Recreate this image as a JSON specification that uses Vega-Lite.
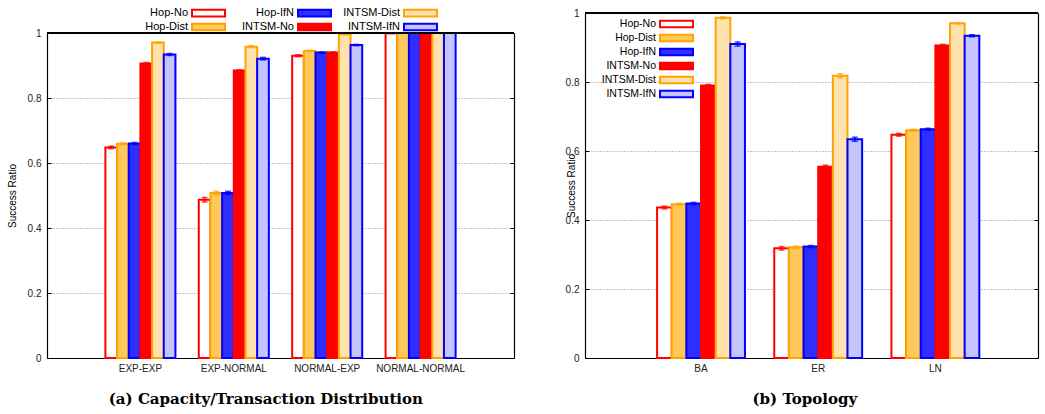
{
  "$schema": "https://vega.github.io/schema/vega-lite/v6.json",
  "padding": {"left": 7, "top": 6, "right": 5, "bottom": 5},
  "background": "white",
  "bounds": "flush",
  "spacing": 71,
  "config": {
    "view": {"stroke": null},
    "font": "Liberation Sans",
    "axis": {
      "labelFont": "Liberation Sans", "labelFontSize": 10, "labelColor": "#222",
      "titleFont": "Liberation Sans", "titleFontSize": 10, "titleFontWeight": "normal", "titleColor": "#000",
      "domainColor": "#000", "domainWidth": 1.2, "tickColor": "#000"
    },
    "legend": {"title": null, "symbolType": "M-3,-0.6H3V0.6H-3Z", "symbolSize": 121, "symbolStrokeWidth": 2, "labelAlign": "right", "labelOffset": -27, "symbolOffset": 75, "labelFont": "Liberation Sans", "labelColor": "#000", "columnPadding": 4, "rowPadding": 0, "padding": 0},
    "title": {"font": "DejaVu Serif", "fontSize": 15, "fontWeight": "bold", "color": "#000"}
  },
  "datasets": {
    "dist": [
      {"group": "EXP-EXP", "method": "Hop-No", "ratio": 0.648, "lo": 0.644, "hi": 0.652},
      {"group": "EXP-EXP", "method": "Hop-Dist", "ratio": 0.659, "lo": 0.656, "hi": 0.662},
      {"group": "EXP-EXP", "method": "Hop-IfN", "ratio": 0.660, "lo": 0.657, "hi": 0.663},
      {"group": "EXP-EXP", "method": "INTSM-No", "ratio": 0.906, "lo": 0.903, "hi": 0.909},
      {"group": "EXP-EXP", "method": "INTSM-Dist", "ratio": 0.971, "lo": 0.969, "hi": 0.973},
      {"group": "EXP-EXP", "method": "INTSM-IfN", "ratio": 0.934, "lo": 0.931, "hi": 0.937},
      {"group": "EXP-NORMAL", "method": "Hop-No", "ratio": 0.487, "lo": 0.480, "hi": 0.494},
      {"group": "EXP-NORMAL", "method": "Hop-Dist", "ratio": 0.508, "lo": 0.503, "hi": 0.513},
      {"group": "EXP-NORMAL", "method": "Hop-IfN", "ratio": 0.508, "lo": 0.503, "hi": 0.513},
      {"group": "EXP-NORMAL", "method": "INTSM-No", "ratio": 0.885, "lo": 0.883, "hi": 0.887},
      {"group": "EXP-NORMAL", "method": "INTSM-Dist", "ratio": 0.958, "lo": 0.955, "hi": 0.961},
      {"group": "EXP-NORMAL", "method": "INTSM-IfN", "ratio": 0.921, "lo": 0.917, "hi": 0.925},
      {"group": "NORMAL-EXP", "method": "Hop-No", "ratio": 0.930, "lo": 0.927, "hi": 0.933},
      {"group": "NORMAL-EXP", "method": "Hop-Dist", "ratio": 0.945, "lo": 0.943, "hi": 0.947},
      {"group": "NORMAL-EXP", "method": "Hop-IfN", "ratio": 0.940, "lo": 0.938, "hi": 0.942},
      {"group": "NORMAL-EXP", "method": "INTSM-No", "ratio": 0.940, "lo": 0.938, "hi": 0.942},
      {"group": "NORMAL-EXP", "method": "INTSM-Dist", "ratio": 0.996, "lo": 0.995, "hi": 0.997},
      {"group": "NORMAL-EXP", "method": "INTSM-IfN", "ratio": 0.963, "lo": 0.961, "hi": 0.965},
      {"group": "NORMAL-NORMAL", "method": "Hop-No", "ratio": 0.999, "lo": 0.998, "hi": 1.0},
      {"group": "NORMAL-NORMAL", "method": "Hop-Dist", "ratio": 1.0, "lo": 1.0, "hi": 1.0},
      {"group": "NORMAL-NORMAL", "method": "Hop-IfN", "ratio": 1.0, "lo": 1.0, "hi": 1.0},
      {"group": "NORMAL-NORMAL", "method": "INTSM-No", "ratio": 1.0, "lo": 1.0, "hi": 1.0},
      {"group": "NORMAL-NORMAL", "method": "INTSM-Dist", "ratio": 1.0, "lo": 1.0, "hi": 1.0},
      {"group": "NORMAL-NORMAL", "method": "INTSM-IfN", "ratio": 1.0, "lo": 1.0, "hi": 1.0}
    ],
    "topo": [
      {"group": "BA", "method": "Hop-No", "ratio": 0.436, "lo": 0.432, "hi": 0.440},
      {"group": "BA", "method": "Hop-Dist", "ratio": 0.446, "lo": 0.443, "hi": 0.449},
      {"group": "BA", "method": "Hop-IfN", "ratio": 0.448, "lo": 0.445, "hi": 0.451},
      {"group": "BA", "method": "INTSM-No", "ratio": 0.790, "lo": 0.787, "hi": 0.793},
      {"group": "BA", "method": "INTSM-Dist", "ratio": 0.986, "lo": 0.983, "hi": 0.989},
      {"group": "BA", "method": "INTSM-IfN", "ratio": 0.910, "lo": 0.904, "hi": 0.916},
      {"group": "ER", "method": "Hop-No", "ratio": 0.318, "lo": 0.313, "hi": 0.323},
      {"group": "ER", "method": "Hop-Dist", "ratio": 0.321, "lo": 0.318, "hi": 0.324},
      {"group": "ER", "method": "Hop-IfN", "ratio": 0.323, "lo": 0.320, "hi": 0.326},
      {"group": "ER", "method": "INTSM-No", "ratio": 0.554, "lo": 0.549, "hi": 0.559},
      {"group": "ER", "method": "INTSM-Dist", "ratio": 0.818, "lo": 0.812, "hi": 0.824},
      {"group": "ER", "method": "INTSM-IfN", "ratio": 0.634, "lo": 0.628, "hi": 0.640},
      {"group": "LN", "method": "Hop-No", "ratio": 0.647, "lo": 0.643, "hi": 0.651},
      {"group": "LN", "method": "Hop-Dist", "ratio": 0.660, "lo": 0.657, "hi": 0.663},
      {"group": "LN", "method": "Hop-IfN", "ratio": 0.663, "lo": 0.660, "hi": 0.666},
      {"group": "LN", "method": "INTSM-No", "ratio": 0.906, "lo": 0.903, "hi": 0.909},
      {"group": "LN", "method": "INTSM-Dist", "ratio": 0.970, "lo": 0.968, "hi": 0.972},
      {"group": "LN", "method": "INTSM-IfN", "ratio": 0.934, "lo": 0.931, "hi": 0.937}
    ]
  },
  "resolve": {"scale": {"fill": "independent", "stroke": "independent", "color": "independent", "x": "independent", "y": "independent", "xOffset": "independent"}, "legend": {"fill": "independent", "stroke": "independent"}},
  "hconcat": [
    {
      "width": 467,
      "height": 345,
      "data": {"name": "dist"},
      "title": {"text": "(a) Capacity/Transaction Distribution", "orient": "bottom", "frame": "bounds", "anchor": "middle", "offset": 19, "dx": 5},
      "resolve": {"axis": {"y": "independent"}},
      "layer": [
        {
          "mark": {"type": "bar", "strokeWidth": 2},
          "encoding": {
            "x": {"field": "group", "type": "nominal", "sort": null,
              "scale": {"domain": ["EXP-EXP", "EXP-NORMAL", "NORMAL-EXP", "NORMAL-NORMAL"], "paddingInner": 0, "paddingOuter": 0.5},
              "axis": {"title": null, "labelAngle": 0, "ticks": false, "labelPadding": 5, "domainColor": "#000"}},
            "xOffset": {"field": "method", "type": "nominal",
              "scale": {"domain": ["Hop-No", "Hop-Dist", "Hop-IfN", "INTSM-No", "INTSM-Dist", "INTSM-IfN"], "paddingInner": 0, "paddingOuter": 1}},
            "y": {"field": "ratio", "type": "quantitative",
              "scale": {"domain": [0, 1], "range": [345, 20], "nice": false, "zero": true},
              "axis": {"orient": "left", "title": "Success Ratio", "values": [0, 0.2, 0.4, 0.6, 0.8, 1], "format": "~g", "ticks": true, "tickSize": -4, "labelPadding": 10, "titlePadding": 10, "grid": true, "gridColor": "#888", "gridDash": [1, 2], "gridWidth": 1}},
            "fill": {"field": "method", "type": "nominal",
              "scale": {"domain": ["Hop-No", "Hop-Dist", "Hop-IfN", "INTSM-No", "INTSM-Dist", "INTSM-IfN"], "range": ["#ffffff", "#ffc85a", "#2e2eff", "#ff0000", "#ffe2ad", "#c4c4ff"]},
              "legend": {"orient": "none", "legendX": 80, "legendY": -6.5, "columns": 3, "labelFontSize": 11, "rowPadding": -3.5}},
            "stroke": {"field": "method", "type": "nominal",
              "scale": {"domain": ["Hop-No", "Hop-Dist", "Hop-IfN", "INTSM-No", "INTSM-Dist", "INTSM-IfN"], "range": ["#ff0000", "#ffa500", "#0000ff", "#ff0000", "#ffa500", "#0000ff"]},
              "legend": {"orient": "none", "legendX": 80, "legendY": -6.5, "columns": 3, "labelFontSize": 11, "rowPadding": -3.5}}
          }
        },
        {
          "mark": {"type": "rule", "strokeWidth": 1.5},
          "encoding": {
            "x": {"field": "group", "type": "nominal", "sort": null},
            "xOffset": {"field": "method", "type": "nominal"},
            "y": {"field": "lo", "type": "quantitative", "axis": null},
            "y2": {"field": "hi"},
            "stroke": {"field": "method", "type": "nominal", "legend": null}
          }
        },
        {
          "mark": {"type": "tick", "size": 6, "thickness": 1.5, "orient": "horizontal"},
          "encoding": {
            "x": {"field": "group", "type": "nominal", "sort": null},
            "xOffset": {"field": "method", "type": "nominal"},
            "y": {"field": "hi", "type": "quantitative", "axis": null},
            "color": {"field": "method", "type": "nominal", "legend": null, "scale": {"domain": ["Hop-No", "Hop-Dist", "Hop-IfN", "INTSM-No", "INTSM-Dist", "INTSM-IfN"], "range": ["#ff0000", "#ffa500", "#0000ff", "#ff0000", "#ffa500", "#0000ff"]}}
          }
        },
        {
          "mark": {"type": "tick", "size": 6, "thickness": 1.5, "orient": "horizontal"},
          "encoding": {
            "x": {"field": "group", "type": "nominal", "sort": null},
            "xOffset": {"field": "method", "type": "nominal"},
            "y": {"field": "lo", "type": "quantitative", "axis": null},
            "color": {"field": "method", "type": "nominal", "legend": null}
          }
        },
        {
          "mark": {"type": "rule", "color": "#000", "strokeWidth": 1.2},
          "encoding": {
            "y": {"datum": 1, "type": "quantitative", "axis": {"orient": "right", "title": null, "labels": false, "ticks": true, "tickSize": -4, "values": [0, 0.2, 0.4, 0.6, 0.8, 1], "grid": false, "domainColor": "#000"}}
          }
        }
      ]
    },
    {
      "width": 453,
      "height": 345,
      "data": {"name": "topo"},
      "title": {"text": "(b) Topology", "orient": "bottom", "frame": "bounds", "anchor": "middle", "offset": 19, "dx": 3},
      "resolve": {"axis": {"y": "independent"}},
      "layer": [
        {
          "mark": {"type": "bar", "strokeWidth": 2},
          "encoding": {
            "x": {"field": "group", "type": "nominal", "sort": null,
              "scale": {"domain": ["BA", "ER", "LN"], "paddingInner": 0, "paddingOuter": 0.433, "align": 0.566},
              "axis": {"title": null, "labelAngle": 0, "ticks": false, "labelPadding": 5, "domainColor": "#000"}},
            "xOffset": {"field": "method", "type": "nominal",
              "scale": {"domain": ["Hop-No", "Hop-Dist", "Hop-IfN", "INTSM-No", "INTSM-Dist", "INTSM-IfN"], "paddingInner": 0, "paddingOuter": 1}},
            "y": {"field": "ratio", "type": "quantitative",
              "scale": {"domain": [0, 1], "nice": false, "zero": true},
              "axis": {"orient": "left", "title": "Success Ratio", "values": [0, 0.2, 0.4, 0.6, 0.8, 1], "format": "~g", "ticks": true, "tickSize": -4, "labelPadding": 10, "titlePadding": -11, "grid": true, "gridColor": "#888", "gridDash": [1, 2], "gridWidth": 1}},
            "fill": {"field": "method", "type": "nominal",
              "scale": {"domain": ["Hop-No", "Hop-Dist", "Hop-IfN", "INTSM-No", "INTSM-Dist", "INTSM-IfN"], "range": ["#ffffff", "#ffc85a", "#2e2eff", "#ff0000", "#ffe2ad", "#c4c4ff"]},
              "legend": {"orient": "none", "legendX": 10, "legendY": 4.5, "columns": 1, "labelFontSize": 10.5, "rowPadding": -4.6}},
            "stroke": {"field": "method", "type": "nominal",
              "scale": {"domain": ["Hop-No", "Hop-Dist", "Hop-IfN", "INTSM-No", "INTSM-Dist", "INTSM-IfN"], "range": ["#ff0000", "#ffa500", "#0000ff", "#ff0000", "#ffa500", "#0000ff"]},
              "legend": {"orient": "none", "legendX": 10, "legendY": 4.5, "columns": 1, "labelFontSize": 10.5, "rowPadding": -4.6}}
          }
        },
        {
          "mark": {"type": "rule", "strokeWidth": 1.5},
          "encoding": {
            "x": {"field": "group", "type": "nominal", "sort": null},
            "xOffset": {"field": "method", "type": "nominal"},
            "y": {"field": "lo", "type": "quantitative", "axis": null},
            "y2": {"field": "hi"},
            "stroke": {"field": "method", "type": "nominal", "legend": null}
          }
        },
        {
          "mark": {"type": "tick", "size": 6, "thickness": 1.5, "orient": "horizontal"},
          "encoding": {
            "x": {"field": "group", "type": "nominal", "sort": null},
            "xOffset": {"field": "method", "type": "nominal"},
            "y": {"field": "hi", "type": "quantitative", "axis": null},
            "color": {"field": "method", "type": "nominal", "legend": null, "scale": {"domain": ["Hop-No", "Hop-Dist", "Hop-IfN", "INTSM-No", "INTSM-Dist", "INTSM-IfN"], "range": ["#ff0000", "#ffa500", "#0000ff", "#ff0000", "#ffa500", "#0000ff"]}}
          }
        },
        {
          "mark": {"type": "tick", "size": 6, "thickness": 1.5, "orient": "horizontal"},
          "encoding": {
            "x": {"field": "group", "type": "nominal", "sort": null},
            "xOffset": {"field": "method", "type": "nominal"},
            "y": {"field": "lo", "type": "quantitative", "axis": null},
            "color": {"field": "method", "type": "nominal", "legend": null}
          }
        },
        {
          "mark": {"type": "rule", "color": "#000", "strokeWidth": 1.2},
          "encoding": {
            "y": {"datum": 1, "type": "quantitative", "axis": {"orient": "right", "title": null, "labels": false, "ticks": true, "tickSize": -4, "values": [0, 0.2, 0.4, 0.6, 0.8, 1], "grid": false, "domainColor": "#000"}}
          }
        }
      ]
    }
  ]
}
